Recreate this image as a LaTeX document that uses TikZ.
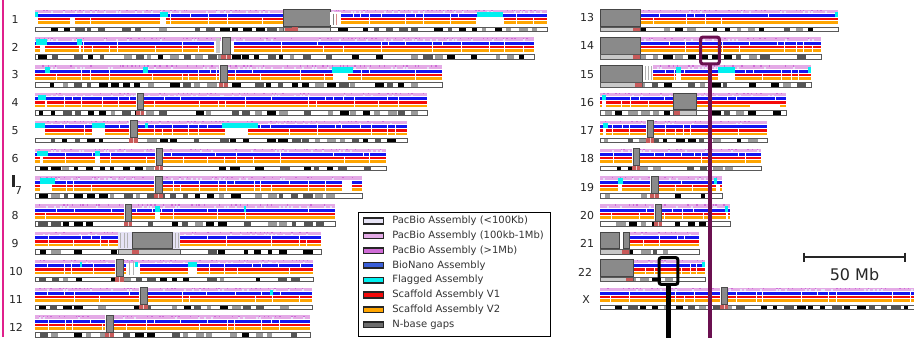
\documentclass[tikz,border=0pt]{standalone}
\usepackage{fontspec}
\setmainfont{DejaVu Sans}
\usetikzlibrary{calc}
\definecolor{pbLight}{HTML}{E6E3F5}
\definecolor{pbMid}{HTML}{E4AAE6}
\definecolor{pbDark}{HTML}{CF6CD6}
\definecolor{bnBlue}{HTML}{1414F0}
\definecolor{bnLeg}{HTML}{3A5FD9}
\definecolor{flagC}{HTML}{00F0F0}
\definecolor{vOne}{HTML}{F50A0A}
\definecolor{vTwo}{HTML}{FFA500}
\definecolor{gapGray}{HTML}{8A8A8A}
\definecolor{gDark}{HTML}{555555}
\definecolor{gMid}{HTML}{9A9A9A}
\definecolor{gLight}{HTML}{C8C8C8}
\definecolor{cenRed}{HTML}{C85A5A}
\definecolor{hiPurple}{HTML}{6B1050}
\definecolor{edgePink}{HTML}{E0208C}
% ---- macros --------------------------------------------------------
\newcommand{\chrtrack}[4]{% y0, xs, xe, seed
  \pgfmathsetseed{#4}%
  \fill[pbMid] (#2,#1) rectangle (#3,#1+3.4);
  \fill[bnBlue] (#2,#1+4.4) rectangle (#3,#1+7.4);
  \fill[vOne] (#2,#1+8.4) rectangle (#3,#1+10.8);
  \fill[vTwo] (#2,#1+11.8) rectangle (#3,#1+14.5);
  \pgfmathtruncatemacro\nsp{(#3-#2)/4-1}%
  \foreach \kk in {1,...,\nsp}{%
    \pgfmathsetmacro\xx{#2+4*\kk-1+2*rnd}%
    \pgfmathsetmacro\rr{rnd}%
    \ifdim\rr pt<0.5pt \fill[pbDark] (\xx,#1+0.2) rectangle ++(1.4,1.3);\fi
    \pgfmathsetmacro\rs{rnd}%
    \ifdim\rs pt<0.3pt \fill[pbLight] (\xx,#1+1.9) rectangle ++(2,1.5);\fi
  }%
  \pgfmathtruncatemacro\nhl{(#3-#2)/9-1}%
  \foreach \kk in {1,...,\nhl}{%
    \pgfmathsetmacro\xx{#2+9*\kk+4*rnd}%
    \pgfmathsetmacro\rr{rnd}%
    \ifdim\rr pt<0.22pt \fill[white] (\xx,#1+3.4) rectangle ++(0.8,11.1);
    \else\ifdim\rr pt<0.38pt \fill[white] (\xx,#1+3.4) rectangle ++(0.8,4);
    \else\ifdim\rr pt<0.5pt \fill[white] (\xx,#1+7.4) rectangle ++(0.8,7.1);\fi\fi\fi
  }%
}
\newcommand{\ideo}[4]{% y0, xs, xe, seed
  \pgfmathsetseed{#4}%
  \fill[white] (#2,#1+17.5) rectangle (#3,#1+22);
  \pgfmathtruncatemacro\ideoN{(#3-#2-6)/12}%
  \foreach \cc in {1,...,\ideoN}{%
    \pgfmathsetmacro\xx{#2+12*(\cc-1)+3+2*rnd}%
    \pgfmathsetmacro\ww{4+6*rnd}%
    \pgfmathsetmacro\rr{rnd}%
    \ifdim\rr pt<0.3pt \fill[black] (\xx,#1+17.5) rectangle ++(\ww,4.5);
    \else\ifdim\rr pt<0.55pt \fill[gDark] (\xx,#1+17.5) rectangle ++(\ww,4.5);
    \else\ifdim\rr pt<0.78pt \fill[gMid] (\xx,#1+17.5) rectangle ++(\ww,4.5);\fi\fi\fi
  }%
  \draw[gray!70!black, line width=0.5pt] (#2,#1+17.5) rectangle (#3,#1+22);
}
\newcommand{\flag}[3]{\fill[flagC] (#2,#1+2) rectangle (#3,#1+7.4);}
\newcommand{\gapro}[3]{\fill[white] (#2,#1+7.4) rectangle (#3,#1+14.6);}
\newcommand{\gapall}[3]{\fill[white] (#2,#1+3.4) rectangle (#3,#1+14.6);}
\newcommand{\cen}[3]{% y0, x1, x2
  \fill[white] (#2-1.2,#1) rectangle (#3+1.2,#1+16.8);
  \filldraw[fill=gapGray, draw=gray!60!black, line width=0.35pt] (#2,#1) rectangle (#3,#1+16.8);
  \fill[cenRed] (#2-1,#1+17.7) rectangle (#3+1,#1+21.8);
  \draw[white!70!cenRed, line width=0.4pt] ($(#2,#1+17.7)!0.5!(#3,#1+17.7)$) -- ++(0,4.1);
}
\newcommand{\blk}[3]{% y0, x1, x2 big gap block
  \fill[white] (#2,#1) rectangle (#3+1,#1+16.8);
  \filldraw[fill=gapGray, draw=gray!55!black, line width=0.4pt] (#2,#1) rectangle (#3,#1+16.8);
}
\newcommand{\blkideo}[4]{% y0, x1, x2, red start
  \fill[gLight] (#2,#1+17.5) rectangle (#3,#1+22);
  \fill[cenRed] (#4,#1+17.7) rectangle ++(7,4.1);
  \draw[gray!70!black, line width=0.5pt] (#2,#1+17.5) rectangle (#3,#1+22);
}
\begin{document}
\begin{tikzpicture}[x=0.75pt,y=-0.75pt,
  chrlab/.style={font=\fontsize{8.2}{10}\selectfont, text=black!85, inner sep=0pt},
  swatch/.style={draw=black!85, line width=1.2pt, minimum width=15pt, minimum height=4.1pt, inner sep=0pt},
  legtxt/.style={anchor=west, inner sep=0pt, font=\fontsize{7.5}{9}\selectfont, text=black!80},
  hlbox/.style={draw, line width=2.3pt, rounded corners=1.5pt, minimum width=14pt, minimum height=20pt, inner sep=0pt},
  hlline/.style={line width=3.5pt}]
\useasboundingbox (0,0) rectangle (914,337);
\fill[white] (0,0) rectangle (914,337);

% ================= LEFT COLUMN =================
% chr1
\chrtrack{9.5}{35}{547}{11}
\flag{9.5}{35}{38}\gapro{9.5}{35}{38}
\gapro{9.5}{70}{75}
\flag{9.5}{160}{168}\gapro{9.5}{160}{165}
\flag{9.5}{477}{503}\gapro{9.5}{476}{504}
\blk{9.5}{283}{330}
\fill[white] (330,9.5+2) rectangle (341,9.5+15);
\draw[gray, line width=0.5pt] (333,9.5+4) -- (333,9.5+15);
\draw[cenRed!70, line width=0.5pt] (336,9.5+4) -- (336,9.5+15);
\ideo{9.5}{35}{547}{101}
\blkideo{9.5}{283}{330}{285}
\fill[cenRed] (292,9.5+17.7) rectangle ++(6,4.1);
% chr2
\chrtrack{37.3}{35}{534}{12}
\flag{37.3}{36}{47}\gapro{37.3}{40}{45}
\flag{37.3}{77}{82}\gapro{37.3}{79}{81}
\gapall{37.3}{214}{234}
\fill[gLight] (216,37.3+1) rectangle (220,37.3+16);
\ideo{37.3}{35}{534}{102}
\cen{37.3}{222}{230}
% chr3
\chrtrack{65.1}{35}{442}{13}
\flag{65.1}{45}{50}\flag{65.1}{143}{148}
\flag{65.1}{332}{353}\gapro{65.1}{334}{348}
\ideo{65.1}{35}{442}{103}
\cen{65.1}{220}{227}
% chr4
\chrtrack{92.9}{35}{427}{14}
\flag{92.9}{38}{46}\gapro{92.9}{45}{47}
\ideo{92.9}{35}{427}{104}
\cen{92.9}{137}{143}
% chr5
\chrtrack{120.7}{35}{407}{15}
\flag{120.7}{35}{45}\gapro{120.7}{35}{45}
\flag{120.7}{92}{105}\gapro{120.7}{92}{105}
\flag{120.7}{145}{148}
\flag{120.7}{222}{258}\gapro{120.7}{225}{248}
\ideo{120.7}{35}{407}{105}
\cen{120.7}{130}{137}
% chr6
\chrtrack{148.5}{35}{386}{16}
\flag{148.5}{37}{48}\gapro{148.5}{40}{43}
\flag{148.5}{95}{100}\gapro{148.5}{95}{100}
\ideo{148.5}{35}{386}{106}
\cen{148.5}{156}{162}
% chr7
\chrtrack{176.3}{35}{362}{17}
\flag{176.3}{40}{55}\gapro{176.3}{40}{52}
\gapall{176.3}{342}{352}
\ideo{176.3}{35}{362}{107}
\cen{176.3}{155}{162}
% chr8
\chrtrack{204.1}{35}{335}{18}
\flag{204.1}{155}{160}\gapro{204.1}{155}{160}
\flag{204.1}{244}{246}
\ideo{204.1}{35}{335}{108}
\cen{204.1}{125}{131}
% chr9
\chrtrack{231.9}{35}{321}{19}
\fill[pbLight] (118,231.9) rectangle (180,231.9+16.8);
\foreach \q in {120,124,127,175,178}{\draw[gray!60, line width=0.5pt] (\q,231.9+1) -- (\q,231.9+16);}
\ideo{231.9}{35}{321}{109}
\blk{231.9}{132}{172}
\blkideo{231.9}{118}{180}{132}
% chr10
\chrtrack{259.7}{35}{313}{20}
\flag{259.7}{80}{82}
\gapall{259.7}{126}{140}
\flag{259.7}{135}{138}
\foreach \q in {129,133}{\draw[gray!60, line width=0.5pt] (\q,259.7+1) -- (\q,259.7+15);}
\flag{259.7}{188}{197}\gapro{259.7}{188}{197}
\ideo{259.7}{35}{313}{110}
\cen{259.7}{116}{123}
% chr11
\chrtrack{287.5}{35}{312}{21}
\flag{287.5}{270}{273}
\ideo{287.5}{35}{312}{111}
\cen{287.5}{140}{147}
% chr12
\chrtrack{315.3}{35}{310}{22}
\ideo{315.3}{35}{310}{112}
\cen{315.3}{106}{113}

% ================= RIGHT COLUMN =================
% chr13
\chrtrack{9.5}{640}{838}{23}
\flag{9.5}{835}{838}
\ideo{9.5}{600}{838}{113}
\blk{9.5}{600}{640}
\blkideo{9.5}{600}{640}{633}
% chr14
\chrtrack{37.3}{640}{821}{24}
\ideo{37.3}{600}{821}{114}
\blk{37.3}{600}{640}
\blkideo{37.3}{600}{640}{633}
% chr15
\chrtrack{65.1}{653}{811}{25}
\flag{65.1}{676}{681}\gapro{65.1}{676}{681}
\flag{65.1}{718}{735}\gapro{65.1}{718}{735}
\flag{65.1}{808}{811}
\foreach \q in {645,648,651}{\draw[gray!60, line width=0.5pt] (\q,65.1+1) -- (\q,65.1+15);}
\ideo{65.1}{600}{811}{115}
\blk{65.1}{600}{642}
\blkideo{65.1}{600}{642}{635}
% chr16
\chrtrack{92.9}{600}{786}{26}
\flag{92.9}{602}{606}\gapro{92.9}{602}{606}
\fill[white] (750,92.9+11.6) rectangle (780,92.9+14.6);
\ideo{92.9}{600}{786}{116}
\blk{92.9}{673}{696}
\blkideo{92.9}{673}{696}{673}
% chr17
\chrtrack{120.7}{600}{767}{27}
\flag{120.7}{603}{608}\gapro{120.7}{603}{606}
\ideo{120.7}{600}{767}{117}
\cen{120.7}{647}{653}
% chr18
\chrtrack{148.5}{600}{761}{28}
\ideo{148.5}{600}{761}{118}
\cen{148.5}{633}{639}
% chr19
\chrtrack{176.3}{600}{722}{29}
\flag{176.3}{618}{623}\gapro{176.3}{618}{622}
\flag{176.3}{714}{717}\gapro{176.3}{716}{720}
\ideo{176.3}{600}{722}{119}
\cen{176.3}{651}{658}
% chr20
\chrtrack{204.1}{600}{730}{30}
\flag{204.1}{725}{728}\gapro{204.1}{726}{728}
\ideo{204.1}{600}{730}{120}
\cen{204.1}{655}{661}
% chr21
\chrtrack{231.9}{630}{699}{31}
\ideo{231.9}{600}{699}{121}
\blk{231.9}{600}{619}
\blk{231.9}{623}{629}
\blkideo{231.9}{600}{629}{622}
% chr22
\chrtrack{259.7}{633}{705}{32}
\flag{259.7}{702}{705}
\ideo{259.7}{600}{705}{122}
\blk{259.7}{600}{633}
\blkideo{259.7}{600}{633}{626}
% chrX
\chrtrack{287.5}{600}{920}{33}
\ideo{287.5}{600}{920}{123}
\cen{287.5}{721}{727}

% ================= LABELS =================
\node[chrlab] (l1)  at (15,19.5)  {1};
\node[chrlab] (l2)  at (15,47)    {2};
\node[chrlab] (l3)  at (15,75)    {3};
\node[chrlab] (l4)  at (15,102.5) {4};
\node[chrlab] (l5)  at (15,131)   {5};
\node[chrlab] (l6)  at (15,159)   {6};
\node[chrlab] (l7)  at (18.5,190.5) {7};
\node[chrlab] (l8)  at (15,216)   {8};
\node[chrlab] (l9)  at (15,244)   {9};
\node[chrlab] (l10) at (16,271.5) {10};
\node[chrlab] (l11) at (16,299.5) {11};
\node[chrlab] (l12) at (16,327.5) {12};
\node[chrlab] (r13) at (587,18)   {13};
\node[chrlab] (r14) at (587,46)   {14};
\node[chrlab] (r15) at (587,74.5) {15};
\node[chrlab] (r16) at (587,102.5) {16};
\node[chrlab] (r17) at (587,131)  {17};
\node[chrlab] (r18) at (587,159)  {18};
\node[chrlab] (r19) at (587,188)  {19};
\node[chrlab] (r20) at (587,216)  {20};
\node[chrlab] (r21) at (587,243)  {21};
\node[chrlab] (r22) at (585,272.5) {22};
\node[chrlab] (rX)  at (586,300)  {X};

% left edge and small tick
\draw[edgePink, line width=1.1pt] (2.8,0) -- (2.8,337);
\draw[black!85, line width=1.9pt] (13.5,175) -- (13.5,187);

% ================= LEGEND =================
\node[draw=black, line width=0.8pt, fill=white, minimum width=144pt, minimum height=93pt, anchor=north west, inner sep=0pt] (legend) at (358,212) {};
\node[swatch, fill=pbLight] (s1) at (373.5,221) {};
\node[swatch, fill=pbMid]   (s2) at (373.5,235.8) {};
\node[swatch, fill=pbDark]  (s3) at (373.5,250.6) {};
\node[swatch, fill=bnLeg]   (s4) at (373.5,265.4) {};
\node[swatch, fill=flagC]   (s5) at (373.5,280.2) {};
\node[swatch, fill=vOne]    (s6) at (373.5,295) {};
\node[swatch, fill=vTwo]    (s7) at (373.5,309.8) {};
\node[swatch, fill=gray!85!black] (s8) at (373.5,324.6) {};
\node[legtxt] (t1) at (392,221)   {PacBio Assembly (<100Kb)};
\node[legtxt] (t2) at (392,235.8) {PacBio Assembly (100kb-1Mb)};
\node[legtxt] (t3) at (392,250.6) {PacBio Assembly (>1Mb)};
\node[legtxt] (t4) at (392,265.4) {BioNano Assembly};
\node[legtxt] (t5) at (392,280.2) {Flagged Assembly};
\node[legtxt] (t6) at (392,295)   {Scaffold Assembly V1};
\node[legtxt] (t7) at (392,309.8) {Scaffold Assembly V2};
\node[legtxt] (t8) at (392,324.6) {N-base gaps};

% ================= SCALE BAR =================
\coordinate (sbL) at (804,256.8);
\coordinate (sbR) at (905,256.8);
\draw[black!85, line width=1.1pt] (sbL) -- (sbR);
\draw[black!85, line width=1.1pt] (804,252.5) -- (804,261.5);
\draw[black!85, line width=1.1pt] (905,252.5) -- (905,261.5);
\node[font=\fontsize{12}{14}\selectfont, text=black!85, inner sep=0pt] (sblab) at (854.5,275) {50 Mb};

% ================= HIGHLIGHTS =================
\node[hlbox, draw=hiPurple] (hl14) at (710,50.5) {};
\coordinate (hl14end) at (710,340);
\draw[hiPurple, hlline] (hl14.south) -- (hl14end);
\node[hlbox, draw=black] (hl22) at (668.5,271) {};
\coordinate (hl22end) at (668.5,340);
\draw[black, hlline] (hl22.south) -- (hl22end);
\end{tikzpicture}
\end{document}
